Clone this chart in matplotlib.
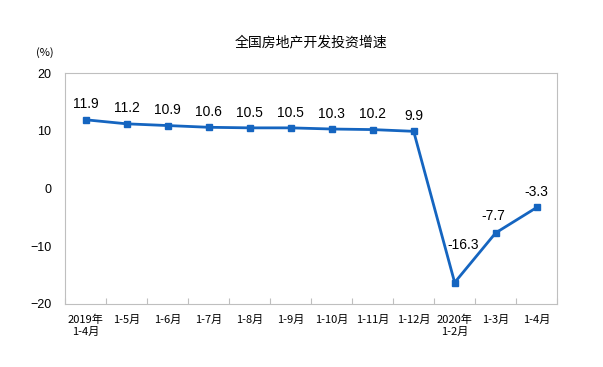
import matplotlib
matplotlib.use('Agg')
import matplotlib.pyplot as plt
import numpy as np

# 数据
categories = ['2019年\n1-4月', '1-5月', '1-6月', '1-7月', '1-8月', '1-9月', '1-10月',
              '1-11月', '1-12月', '2020年\n1-2月', '1-3月', '1-4月']
values = [11.9, 11.2, 10.9, 10.6, 10.5, 10.5, 10.3, 10.2, 9.9, -16.3, -7.7, -3.3]
y_ticks = [-20, -10, 0, 10, 20]

plt.rcParams['font.family'] = ['Liberation Sans', 'Noto Sans CJK SC', 'DejaVu Sans']

fig = plt.figure(figsize=(6.03, 3.67), dpi=100)
ax = fig.add_axes([0.108, 0.172, 0.816, 0.629])

x = np.arange(len(values))
line_color = '#1565c0'
ax.plot(x, values, color=line_color, linewidth=2, marker='s', markersize=5)

# 数据标签
for i, v in enumerate(values):
    if v == -16.3:
        off = (6, 22)
    elif v == -7.7:
        off = (-2, 7)
    else:
        off = (0, 6)
    ax.annotate(str(v), (i, v), xytext=off, textcoords='offset points',
                ha='center', va='bottom', fontsize=10)

ax.set_xlim(-0.5, len(values) - 0.5)
ax.set_ylim(-20, 20)
ax.set_yticks(y_ticks)
ax.tick_params(axis='y', length=0, labelsize=9, pad=10)

# 横轴刻度：类目之间的分隔刻度
ax.set_xticks(np.arange(len(values) + 1) - 0.5, minor=False)
ax.set_xticklabels([])
ax.set_xticks(x, minor=True)
ax.set_xticklabels(categories, minor=True, fontsize=8,
                   family=['Noto Sans CJK SC', 'DejaVu Sans'])
ax.tick_params(axis='x', which='major', direction='in', length=4, color='#bfbfbf')
ax.tick_params(axis='x', which='minor', length=0, pad=8)

for s in ax.spines.values():
    s.set_color('#bfbfbf')

fig.text(0.515, 0.885, '全国房地产开发投资增速', ha='center', va='center', fontsize=10,
         family=['Noto Sans CJK SC', 'DejaVu Sans'])
fig.text(0.075, 0.858, '(%)', ha='center', va='center', fontsize=8,
         family=['Noto Sans CJK SC', 'DejaVu Sans'])

fig.savefig('out.png', dpi=100)
